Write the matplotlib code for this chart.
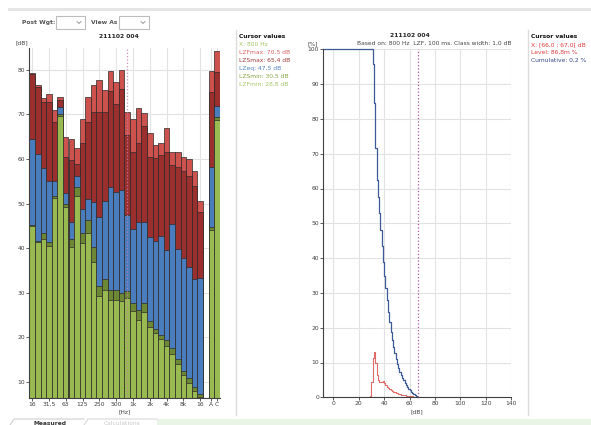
import numpy as np
import matplotlib.pyplot as plt
from matplotlib.patches import Rectangle
from matplotlib.lines import Line2D

plt.rcParams['font.family'] = 'DejaVu Sans'

W, H = 591, 425
FS = 4.3

# --- Espectro en tercios de octava 16 Hz .. 16 kHz, mas ponderaciones A y C ---
etiquetas_banda = ['16', '31,5', '63', '125', '250', '500', '1k', '2k', '4k', '8k', '16', 'A', 'C']
lzf_max = [79.3, 76.5, 73.7, 74.6, 70.9, 74.0, 64.9, 64.4, 62.4, 68.9, 74.0, 76.6, 77.7, 75.5, 79.8, 77.2,
           80.0, 70.5, 68.9, 71.5, 70.4, 65.9, 63.1, 63.7, 66.9, 61.5, 61.6, 60.4, 60.0, 57.3, 50.6,
           79.8, 84.3]
lzs_max = [79.0, 76.2, 72.7, 72.7, 68.4, 73.2, 60.5, 59.8, 58.8, 63.5, 68.2, 70.5, 70.5, 70.5, 75.3, 72.4,
           75.7, 65.4, 61.5, 63.7, 67.4, 60.5, 60.3, 60.9, 61.6, 58.7, 58.1, 57.3, 56.3, 54.0, 48.2,
           75.0, 79.6]
lz_eq = [64.5, 61.1, 57.9, 55.0, 55.0, 71.6, 52.3, 45.8, 56.3, 48.8, 51.1, 50.3, 47.0, 50.5, 53.8, 52.7,
         53.0, 47.5, 44.4, 45.9, 45.9, 42.5, 41.6, 42.8, 39.7, 45.5, 39.9, 37.8, 35.7, 33.0, 33.4,
         58.3, 71.8]
lzs_min = [45.3, 41.7, 43.4, 41.4, 51.6, 70.2, 50.0, 42.0, 53.8, 43.5, 46.3, 40.3, 31.5, 33.0, 30.7, 30.7,
           30.0, 30.5, 27.6, 26.1, 27.8, 23.7, 21.9, 20.6, 19.3, 17.7, 15.2, 12.4, 10.8, 8.8, 7.2,
           44.8, 69.5]
lzf_min = [45.0, 41.4, 42.0, 40.4, 51.2, 69.6, 49.3, 40.3, 51.8, 41.1, 43.5, 36.8, 29.3, 30.7, 28.3, 28.3,
           28.2, 28.8, 25.9, 23.8, 25.7, 22.3, 21.0, 19.6, 18.0, 16.3, 14.1, 11.5, 9.8, 7.9, 6.7,
           44.1, 68.8]

# --- Estadistica de niveles en 800 Hz (clases de 1 dB) ---
clase_db = list(range(28, 68))
nivel_pct = [0, 0.3, 4.4, 11.2, 13.1, 10.0, 6.4, 5.0, 4.4, 4.3, 4.5, 4.7, 4.2, 3.6, 3.1, 2.7, 2.4, 2.1,
             1.8, 1.6, 1.4, 1.25, 1.1, 1.0, 0.9, 0.8, 0.7, 0.62, 0.55, 0.5, 0.45, 0.4, 0.35, 0.3, 0.25,
             0.2, 0.15, 0.12, 0.087, 0]
acum_db = list(range(31, 68))
acum_pct = [95.8, 84.5, 71.5, 62.4, 57.5, 53.0, 48.0, 43.5, 39.0, 35.0, 31.5, 28.0, 24.5, 21.5, 18.8,
            16.5, 14.5, 12.6, 11.0, 9.6, 8.4, 7.3, 6.4, 5.6, 4.9, 4.2, 3.6, 3.0, 2.5, 2.0, 1.6, 1.25,
            0.95, 0.7, 0.45, 0.2, 0]

# colores
C_FMAX = '#cd524d'
C_SMAX = '#9b2f2e'
C_EQ = '#4a7dbe'
C_SMIN = '#6d8834'
C_FMIN = '#98ba50'
C_EDGE = '#2e2a2a'
C_GRID = '#e2e2e2'
C_AXIS = '#404040'
C_CURSOR = '#c57cae'


def px(x, y):
    return x / W, 1 - y / H


def ftext(x, y, s, **kw):
    kw.setdefault('fontsize', FS)
    kw.setdefault('va', 'center')
    fig.text(*px(x, y), s, **kw)


def fline(xs, ys, **kw):
    fig.add_artist(Line2D([x / W for x in xs], [1 - y / H for y in ys],
                          transform=fig.transFigure, **kw))


def estilo_ejes(ax):
    for s in ['top', 'right']:
        ax.spines[s].set_visible(False)
    for s in ['left', 'bottom']:
        ax.spines[s].set_color(C_AXIS)
        ax.spines[s].set_linewidth(0.8)
    ax.tick_params(labelsize=FS, length=2, width=0.6, pad=1, colors=C_AXIS)
    ax.grid(True, color=C_GRID, linewidth=0.8)
    ax.set_axisbelow(True)


fig = plt.figure(figsize=(W / 100, H / 100), dpi=100)

# =========================================================
# Cabecera con selectores
# =========================================================
fline([9, 591], [9, 9], color='#e4e4e4', linewidth=2)
ftext(22, 22.5, 'Post Wgt:', fontweight='bold', color='#555555')
ftext(91, 22.5, 'View As', fontweight='bold', color='#555555')
for x0, x1 in [(56, 85), (119, 149)]:
    fig.add_artist(Rectangle(px(x0, 29), (x1 - x0) / W, 13 / H, transform=fig.transFigure,
                             facecolor='white', edgecolor='#bdbdbd', linewidth=0.8))
    fline([x1 - 8, x1 - 6, x1 - 4], [21.5, 23.5, 21.5], color='#888888', linewidth=0.6)

# =========================================================
# Espectro (barras superpuestas)
# =========================================================
ax1 = fig.add_axes([29.3 / W, 1 - 398 / H, 190.4 / W, 350 / H])
estilo_ejes(ax1)
pos = np.r_[np.arange(31), 32, 33] + 0.5
for serie, color in [(lzf_max, C_FMAX), (lzs_max, C_SMAX), (lz_eq, C_EQ),
                     (lzs_min, C_SMIN), (lzf_min, C_FMIN)]:
    ax1.bar(pos, serie, width=1.0, color=color, edgecolor=C_EDGE, linewidth=0.5)
ax1.axvline(pos[17], color=C_CURSOR, linestyle=':', linewidth=0.9, alpha=0.85)
ax1.set_xlim(0, 34)
ax1.set_ylim(6.4, 84.9)
ax1.set_yticks(range(10, 90, 10))
ax1.set_xticks(np.r_[pos[0:31:3], pos[31:]])
ax1.set_xticklabels(etiquetas_banda)
ax1.grid(True, axis='both', color=C_GRID, linewidth=0.8)

ftext(119, 36, '211102 004', ha='center', fontweight='bold', color='#222222')
ftext(16, 43, '[dB]', color=C_AXIS)
ftext(125, 411.7, '[Hz]', ha='center', color=C_AXIS)

# leyenda de cursor
fline([236, 236], [30, 415], color='#dcdcdc', linewidth=1)
ftext(239, 36.7, 'Cursor values', fontweight='bold', color='#111111')
cursor_izq = [('X: 800 Hz', '#a4c466'),
              ('LZFmax: 70,5 dB', '#d9625c'),
              ('LZSmax: 65,4 dB', '#a33a39'),
              ('LZeq: 47,5 dB', '#4f82c2'),
              ('LZSmin: 30,5 dB', '#86a644'),
              ('LZFmin: 28,8 dB', '#a4c466')]
for i, (txt, col) in enumerate(cursor_izq):
    ftext(239, 44.7 + 8 * i, txt, color=col)

# =========================================================
# Distribucion estadistica
# =========================================================
ax2 = fig.add_axes([323.3 / W, 1 - 397.3 / H, 188 / W, 348 / H])
estilo_ejes(ax2)
ax2.set_xlim(-7.87, 140)
ax2.set_ylim(0, 100)
ax2.set_xticks(range(0, 141, 20))
ax2.set_yticks(range(0, 101, 10))
ax2.step(clase_db, nivel_pct, where='post', color='#e06a66', linewidth=0.8)
xmin = ax2.get_xlim()[0]
ax2.step([xmin] + acum_db, [100] + acum_pct, where='post', color='#3d5a96',
         linewidth=0.9, clip_on=False)
ax2.axvline(67, color='#b0559a', linestyle=':', linewidth=0.9)

ftext(410, 35.7, '211102 004', ha='center', fontweight='bold', color='#222222')
ftext(511.7, 43.5, 'Based on: 800 Hz  LZF, 100 ms. Class width: 1,0 dB', ha='right', color='#444444')
ftext(308, 44, '[%]', color=C_AXIS)
ftext(417, 411.7, '[dB]', ha='center', color=C_AXIS)

fline([528, 528], [30, 415], color='#dcdcdc', linewidth=1)
ftext(531, 36.7, 'Cursor values', fontweight='bold', color='#111111')
cursor_der = [('X: [66,0 ; 67,0[ dB', '#e0393b'),
              ('Level: 86,8m %', '#e0393b'),
              ('Cumulative: 0,2 %', '#34478a')]
for i, (txt, col) in enumerate(cursor_der):
    ftext(531, 44.7 + 8 * i, txt, color=col)

# =========================================================
# Pestanas inferiores
# =========================================================
fig.add_artist(Rectangle(px(157, 425), (W - 157) / W, 6 / H, transform=fig.transFigure,
                         facecolor='#e9f3e6', edgecolor='none'))
fline([10, 14, 84], [425, 419, 419], color='#cfcfcf', linewidth=0.8)
fline([84, 88, 157], [425, 419, 419], color='#d8d8d8', linewidth=0.8)
ftext(33, 423.5, 'Measured', fontweight='bold', color='#333333')
ftext(104, 423.5, 'Calculations', color='#c8c8c8')

fig.savefig('out.png', dpi=100)
